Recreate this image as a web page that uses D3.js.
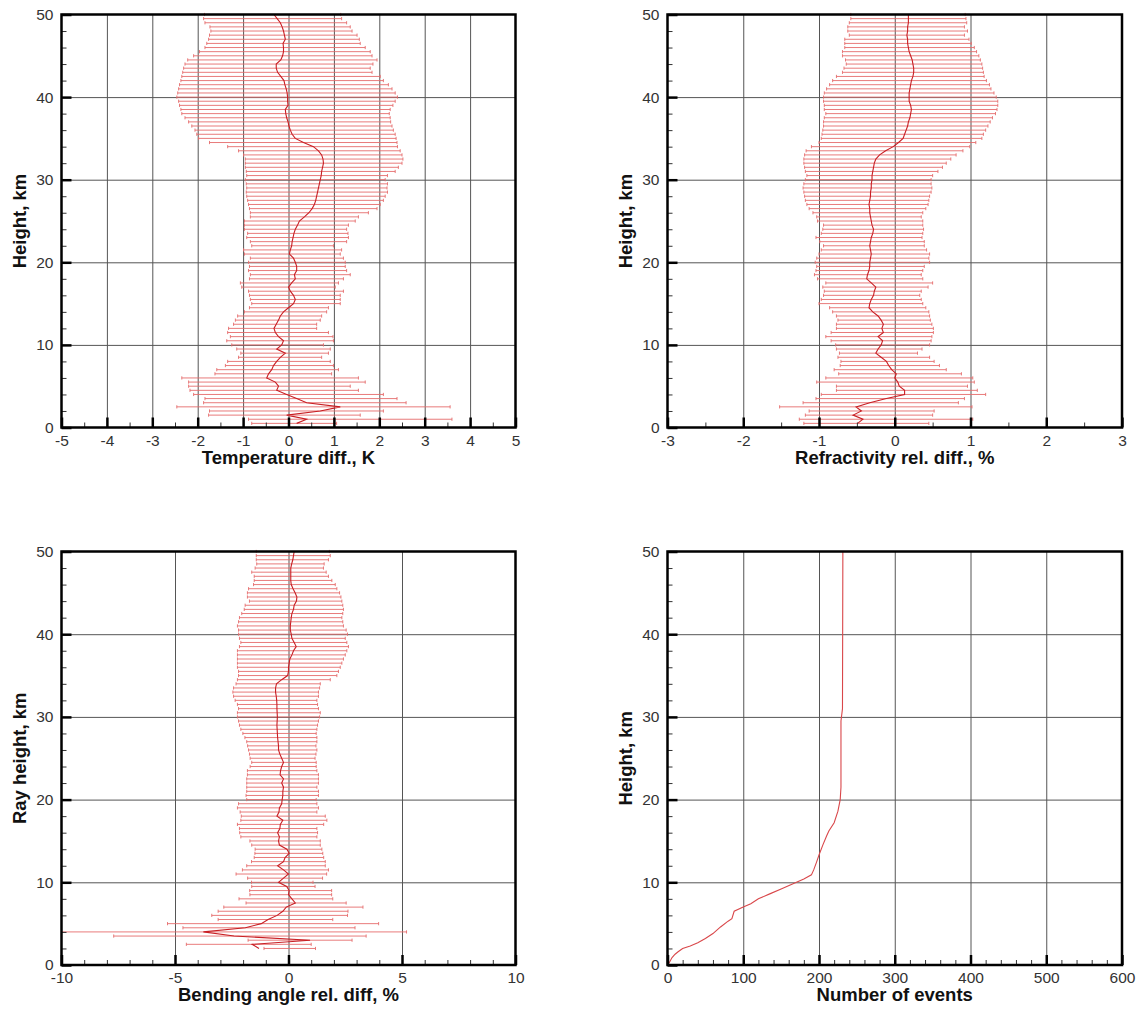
<!DOCTYPE html>
<html>
<head>
<meta charset="utf-8">
<script src="https://cdn.jsdelivr.net/npm/d3@7"></script>
<style>
body { margin: 0; background: #fff; }
svg { display: block; font-family: "Liberation Sans", Arial, Helvetica, sans-serif; }
</style>
</head>
<body>
<svg id="chart" width="1142" height="1010"></svg>
<script>
// heights of the error bars, km
var heights = [
    0.5, 1.0, 1.5, 2.0, 2.5, 3.0, 3.5, 4.0, 4.5, 5.0,
    5.5, 6.0, 6.5, 7.0, 7.5, 8.0, 8.5, 9.0, 9.5, 10.0,
    10.5, 11.0, 11.5, 12.0, 12.5, 13.0, 13.5, 14.0, 14.5, 15.0,
    15.5, 16.0, 16.5, 17.0, 17.5, 18.0, 18.5, 19.0, 19.5, 20.0,
    20.5, 21.0, 21.5, 22.0, 22.5, 23.0, 23.5, 24.0, 24.5, 25.0,
    25.5, 26.0, 26.5, 27.0, 27.5, 28.0, 28.5, 29.0, 29.5, 30.0,
    30.5, 31.0, 31.5, 32.0, 32.5, 33.0, 33.5, 34.0, 34.5, 35.0,
    35.5, 36.0, 36.5, 37.0, 37.5, 38.0, 38.5, 39.0, 39.5, 40.0,
    40.5, 41.0, 41.5, 42.0, 42.5, 43.0, 43.5, 44.0, 44.5, 45.0,
    45.5, 46.0, 46.5, 47.0, 47.5, 48.0, 48.5, 49.0, 49.5, 50.0
];

// temperature difference, K
var tempLo = [
    -0.81, -0.88, -1.76, -1.74, -2.46, -1.87, -1.84, -2.09, -2.17, -2.20,
    -2.20, -2.35, -1.62, -1.58, -1.39, -1.34, -1.10, -1.05, -1.14, -1.25,
    -1.36, -1.28, -1.34, -1.32, -1.21, -1.17, -1.12, -0.97, -0.86, -0.81,
    -0.84, -0.86, -0.88, -1.03, -1.06, -0.86, -0.84, -0.88, -0.86, -0.88,
    -0.84, -0.97, -0.99, -0.81, -0.84, -0.92, -0.90, -0.97, -0.97, -0.97,
    -0.84, -0.84, -0.86, -0.88, -0.90, -0.92, -0.93, -0.92, -0.93, -0.95,
    -0.92, -0.93, -0.95, -0.95, -0.95, -0.99, -1.10, -1.34, -1.74, -1.98,
    -2.02, -2.06, -2.13, -2.20, -2.28, -2.35, -2.37, -2.40, -2.42, -2.46,
    -2.44, -2.42, -2.40, -2.37, -2.35, -2.33, -2.31, -2.28, -2.22, -2.09,
    -1.96, -1.84, -1.80, -1.76, -1.74, -1.71, -1.73, -1.84, -1.87, -1.85
];
var tempHi = [
    1.06, 3.60, 1.58, 2.09, 3.56, 2.59, 2.39, 2.09, 1.54, 1.36,
    1.69, 1.54, 0.95, 1.10, 0.99, 0.92, 0.73, 0.88, 0.92, 0.77,
    0.99, 0.98, 0.88, 0.62, 0.62, 0.70, 0.73, 0.84, 0.88, 1.14,
    1.14, 1.14, 1.21, 1.03, 1.10, 1.21, 1.36, 1.28, 1.25, 1.25,
    1.21, 1.14, 1.17, 0.99, 1.28, 1.32, 1.31, 1.28, 1.32, 1.47,
    1.54, 1.76, 1.95, 2.02, 2.09, 2.13, 2.18, 2.17, 2.18, 2.13,
    2.18, 2.35, 2.42, 2.50, 2.52, 2.50, 2.46, 2.40, 2.39, 2.37,
    2.35, 2.31, 2.28, 2.25, 2.24, 2.22, 2.24, 2.30, 2.35, 2.40,
    2.35, 2.28, 2.20, 2.09, 2.02, 1.84, 1.80, 1.86, 1.95, 1.84,
    1.80, 1.69, 1.58, 1.56, 1.51, 1.40, 1.36, 1.28, 1.17, 1.15
];
var tempMean = [
    0.18, 0.40, -0.04, 0.70, 1.14, 0.40, 0.18, -0.04, -0.26, -0.22,
    -0.29, -0.48, -0.44, -0.37, -0.33, -0.26, -0.18, -0.07, -0.26, -0.15,
    -0.11, -0.22, -0.29, -0.32, -0.27, -0.22, -0.18, -0.11, 0.00, 0.11,
    0.15, 0.11, 0.04, 0.00, 0.07, 0.15, 0.13, 0.18, 0.18, 0.15,
    0.11, 0.02, 0.04, 0.07, 0.08, 0.10, 0.12, 0.15, 0.20, 0.24,
    0.35, 0.45, 0.52, 0.57, 0.60, 0.62, 0.64, 0.66, 0.68, 0.70,
    0.72, 0.73, 0.75, 0.77, 0.76, 0.73, 0.66, 0.55, 0.33, 0.15,
    0.08, 0.04, 0.01, -0.01, -0.04, -0.06, -0.07, -0.01, -0.02, -0.02,
    -0.03, -0.05, -0.08, -0.10, -0.17, -0.24, -0.27, -0.27, -0.17, -0.13,
    -0.11, -0.11, -0.12, -0.07, -0.09, -0.11, -0.14, -0.18, -0.25, -0.32
];

// refractivity relative difference, %
var refrLo = [
    -1.20, -1.26, -1.18, -1.13, -1.52, -1.21, -1.04, -0.97, -0.77, -0.77,
    -1.03, -0.91, -0.74, -0.80, -0.72, -0.71, -0.75, -0.73, -0.77, -0.78,
    -0.84, -0.91, -0.84, -0.77, -0.77, -0.75, -0.77, -0.82, -0.86, -1.00,
    -0.97, -0.94, -0.93, -0.95, -0.91, -1.02, -1.06, -1.04, -1.03, -1.05,
    -1.03, -1.00, -0.97, -0.94, -0.99, -1.04, -0.97, -0.95, -0.94, -1.02,
    -1.03, -1.08, -1.13, -1.16, -1.18, -1.19, -1.20, -1.21, -1.20, -1.18,
    -1.16, -1.18, -1.19, -1.20, -1.20, -1.19, -1.17, -1.10, -1.00, -0.97,
    -0.96, -0.95, -0.94, -0.94, -0.93, -0.91, -0.93, -0.93, -0.94, -0.94,
    -0.93, -0.90, -0.86, -0.82, -0.77, -0.69, -0.67, -0.64, -0.65, -0.69,
    -0.69, -0.66, -0.66, -0.66, -0.60, -0.62, -0.62, -0.60, -0.58, -0.58
];
var refrHi = [
    0.45, 1.03, 0.50, 0.52, 1.02, 0.84, 0.92, 1.20, 1.09, 0.96,
    1.05, 1.03, 0.88, 0.68, 0.59, 0.52, 0.46, 0.30, 0.36, 0.46,
    0.48, 0.49, 0.51, 0.51, 0.49, 0.47, 0.46, 0.45, 0.41, 0.37,
    0.35, 0.33, 0.35, 0.44, 0.50, 0.37, 0.35, 0.37, 0.39, 0.46,
    0.45, 0.46, 0.42, 0.39, 0.39, 0.36, 0.37, 0.38, 0.37, 0.37,
    0.35, 0.37, 0.41, 0.44, 0.45, 0.46, 0.48, 0.49, 0.48, 0.48,
    0.50, 0.57, 0.63, 0.68, 0.74, 0.81, 0.90, 0.99, 1.07, 1.15,
    1.17, 1.20, 1.23, 1.26, 1.29, 1.33, 1.35, 1.36, 1.36, 1.34,
    1.31, 1.27, 1.25, 1.21, 1.18, 1.17, 1.16, 1.15, 1.13, 1.11,
    1.08, 1.05, 1.01, 0.98, 0.92, 0.96, 0.92, 0.95, 0.94, 0.93
];
var refrMean = [
    -0.49, -0.42, -0.55, -0.44, -0.51, -0.33, -0.11, 0.13, 0.13, 0.06,
    0.04, 0.00, 0.02, -0.04, -0.08, -0.11, -0.18, -0.25, -0.22, -0.18,
    -0.16, -0.22, -0.15, -0.17, -0.15, -0.18, -0.22, -0.29, -0.34, -0.33,
    -0.31, -0.28, -0.27, -0.25, -0.31, -0.37, -0.36, -0.34, -0.33, -0.33,
    -0.32, -0.31, -0.32, -0.33, -0.32, -0.31, -0.29, -0.28, -0.30, -0.31,
    -0.32, -0.33, -0.33, -0.34, -0.33, -0.32, -0.32, -0.31, -0.31, -0.30,
    -0.30, -0.29, -0.28, -0.27, -0.25, -0.20, -0.12, -0.02, 0.05, 0.11,
    0.13, 0.15, 0.17, 0.18, 0.20, 0.21, 0.22, 0.21, 0.19, 0.19,
    0.19, 0.20, 0.21, 0.22, 0.24, 0.25, 0.25, 0.24, 0.23, 0.21,
    0.19, 0.18, 0.17, 0.17, 0.16, 0.17, 0.17, 0.18, 0.18, 0.18
];

// bending angle relative difference, % (no data below 2 km)
var bendLo = [
    null, null, null, -1.08, -4.50, -1.78, -7.70, -10.0, -4.65, -5.33,
    -3.10, -3.38, -3.10, -2.85, -1.87, -2.18, -1.70, -1.71, -1.62, -1.63,
    -1.80, -2.31, -2.03, -1.84, -1.63, -1.51, -1.48, -1.47, -1.62, -1.70,
    -2.10, -2.15, -2.16, -2.25, -2.10, -2.08, -2.13, -2.25, -2.20, -1.84,
    -1.87, -1.84, -1.84, -1.84, -1.84, -1.81, -1.81, -1.69, -1.62, -1.69,
    -1.72, -1.76, -1.80, -1.84, -1.92, -2.01, -2.10, -2.16, -2.20, -2.25,
    -2.25, -2.20, -2.25, -2.35, -2.42, -2.45, -2.42, -2.31, -2.25, -2.20,
    -2.20, -2.25, -2.25, -2.25, -2.25, -2.25, -2.16, -2.10, -2.16, -2.20,
    -2.20, -2.25, -2.20, -2.16, -2.06, -1.95, -1.91, -1.72, -1.81, -1.81,
    -1.76, -1.54, -1.51, -1.51, -1.62, -1.47, -1.40, -1.42, -1.42, -1.42
];
var bendHi = [
    null, null, null, 1.19, 1.00, 2.80, 3.42, 5.20, 2.93, 3.97,
    1.95, 2.60, 2.62, 3.28, 2.54, 1.95, 1.90, 1.90, 1.17, 1.08,
    1.50, 1.68, 1.76, 1.62, 1.62, 1.55, 1.51, 1.47, 1.40, 1.40,
    1.25, 1.28, 1.25, 1.55, 1.69, 1.62, 1.25, 1.32, 1.25, 1.22,
    1.32, 1.32, 1.25, 1.32, 1.32, 1.32, 1.25, 1.22, 1.22, 1.17,
    1.21, 1.25, 1.21, 1.25, 1.25, 1.22, 1.25, 1.28, 1.32, 1.37,
    1.40, 1.32, 1.28, 1.25, 1.32, 1.32, 1.37, 1.40, 1.84, 2.13,
    2.20, 2.28, 2.35, 2.42, 2.50, 2.57, 2.64, 2.57, 2.50, 2.60,
    2.54, 2.42, 2.39, 2.35, 2.39, 2.42, 2.39, 2.35, 2.31, 2.25,
    2.13, 2.06, 1.91, 1.76, 1.66, 1.54, 1.57, 1.76, 1.84, 1.80
];
var bendMean = [
    null, null, null, -1.30, -1.60, 0.95, -2.40, -3.75, -1.90, -1.20,
    -0.90, -0.50, -0.25, -0.10, 0.30, 0.15, 0.00, 0.03, -0.08, -0.44,
    -0.22, 0.00, -0.22, -0.48, -0.22, -0.15, 0.03, -0.07, -0.40, -0.44,
    -0.40, -0.48, -0.38, -0.36, -0.25, -0.51, -0.42, -0.40, -0.30, -0.28,
    -0.25, -0.25, -0.22, -0.30, -0.22, -0.37, -0.35, -0.30, -0.22, -0.30,
    -0.38, -0.44, -0.44, -0.46, -0.48, -0.49, -0.50, -0.51, -0.50, -0.49,
    -0.50, -0.51, -0.51, -0.52, -0.54, -0.57, -0.57, -0.53, -0.30, -0.04,
    0.00, 0.00, 0.03, 0.06, 0.15, 0.22, 0.34, 0.25, 0.15, 0.12,
    0.08, 0.08, 0.10, 0.12, 0.15, 0.22, 0.25, 0.35, 0.37, 0.29,
    0.20, 0.12, 0.10, 0.10, 0.10, 0.10, 0.14, 0.19, 0.22, 0.25
];

// number of events reaching down to a given height
var eventsCount = [0, 3, 6, 10, 14, 20, 30, 40, 50, 60, 70, 80, 85, 88, 100, 110, 120, 135,
    150, 165, 180, 190, 193, 197, 200, 205, 210, 213, 220, 225, 228, 229, 229, 229, 231, 231.5];
var eventsHeight = [0, 0.4, 0.9, 1.3, 1.6, 2.0, 2.3, 2.7, 3.2, 3.8, 4.6, 5.3, 5.6, 6.5, 7.0, 7.4, 8.0, 8.6,
    9.2, 9.8, 10.4, 10.9, 11.5, 12.5, 13.3, 14.5, 15.6, 16.2, 17.2, 18.6, 20.0, 21.5, 25.0, 29.5, 31.0, 50];

var svg = d3.select("#chart");

var panels = [
    { left: 61.5, top: 14.5, width: 454, height: 413, xDomain: [-5, 5], xStep: 1, xMinor: 0.5,
      xTitle: "Temperature diff., K", yTitle: "Height, km", lo: tempLo, hi: tempHi, mean: tempMean },
    { left: 667.5, top: 14.5, width: 454.5, height: 413, xDomain: [-3, 3], xStep: 1, xMinor: 0.5,
      xTitle: "Refractivity rel. diff., %", yTitle: "Height, km", lo: refrLo, hi: refrHi, mean: refrMean },
    { left: 61.5, top: 551.5, width: 454, height: 413.5, xDomain: [-10, 10], xStep: 5, xMinor: 1,
      xTitle: "Bending angle rel. diff, %", yTitle: "Ray height, km", lo: bendLo, hi: bendHi, mean: bendMean },
    { left: 667.5, top: 551.5, width: 454.5, height: 413.5, xDomain: [0, 600], xStep: 100, xMinor: 20,
      xTitle: "Number of events", yTitle: "Height, km", events: true }
];

function steps(a, b, s) {
    var out = [];
    var n = Math.round((b - a) / s);
    for (var i = 0; i <= n; i++) out.push(+(a + i * s).toFixed(6));
    return out;
}

function notOn(list, step) {
    return list.filter(function (v) {
        var r = v / step;
        return Math.abs(r - Math.round(r)) > 1e-6;
    });
}

function drawPanel(p) {
    var g = svg.append("g")
        .attr("transform", "translate(" + p.left + "," + p.top + ")");

    var x = d3.scaleLinear().domain(p.xDomain).range([0, p.width]);
    var y = d3.scaleLinear().domain([0, 50]).range([p.height, 0]);

    var xMajor = steps(p.xDomain[0], p.xDomain[1], p.xStep);
    var xMinor = notOn(steps(p.xDomain[0], p.xDomain[1], p.xMinor), p.xStep);
    var yMajor = steps(0, 50, 10);
    var yMinor = notOn(steps(0, 50, 2), 10);
    var fmt = function (d) { return String(d); };

    // grid
    var gx = g.append("g")
        .attr("transform", "translate(0," + p.height + ")")
        .call(d3.axisBottom(x).tickValues(xMajor.slice(1, -1)).tickSize(-p.height).tickFormat(""));
    var gy = g.append("g")
        .call(d3.axisLeft(y).tickValues(yMajor.slice(1, -1)).tickSize(-p.width).tickFormat(""));
    [gx, gy].forEach(function (a) {
        a.select(".domain").remove();
        a.selectAll("line").attr("stroke", "#555").attr("stroke-width", 1);
    });

    // data
    if (p.events) {
        var pts = eventsCount.map(function (c, i) { return [c, eventsHeight[i]]; });
        g.append("path")
            .datum(pts)
            .attr("fill", "none")
            .attr("stroke", "#d9474a")
            .attr("stroke-width", 1.1)
            .attr("d", d3.line().x(function (d) { return x(d[0]); }).y(function (d) { return y(d[1]); }));
    } else {
        var rows = heights.map(function (h, i) {
            return { h: h, lo: p.lo[i], hi: p.hi[i], m: p.mean[i] };
        }).filter(function (d) { return d.lo != null; });

        var bars = g.append("g")
            .attr("stroke", "#e56c6c")
            .attr("stroke-width", 0.9);

        bars.selectAll("line.bar")
            .data(rows)
            .enter()
            .append("line")
            .attr("class", "bar")
            .attr("x1", function (d) { return x(d.lo); })
            .attr("x2", function (d) { return x(d.hi); })
            .attr("y1", function (d) { return y(d.h); })
            .attr("y2", function (d) { return y(d.h); });

        bars.selectAll("line.capL")
            .data(rows)
            .enter()
            .append("line")
            .attr("class", "capL")
            .attr("x1", function (d) { return x(d.lo); })
            .attr("x2", function (d) { return x(d.lo); })
            .attr("y1", function (d) { return y(d.h) - 1.6; })
            .attr("y2", function (d) { return y(d.h) + 1.6; });

        bars.selectAll("line.capR")
            .data(rows)
            .enter()
            .append("line")
            .attr("class", "capR")
            .attr("x1", function (d) { return x(d.hi); })
            .attr("x2", function (d) { return x(d.hi); })
            .attr("y1", function (d) { return y(d.h) - 1.6; })
            .attr("y2", function (d) { return y(d.h) + 1.6; });

        g.append("path")
            .datum(rows)
            .attr("fill", "none")
            .attr("stroke", "#c81f24")
            .attr("stroke-width", 1.1)
            .attr("d", d3.line()
                .x(function (d) { return x(d.m); })
                .y(function (d) { return y(d.h); }));
    }

    // minor ticks
    var mx = g.append("g")
        .attr("transform", "translate(0," + p.height + ")")
        .call(d3.axisBottom(x).tickValues(xMinor).tickSize(-5).tickFormat(""));
    var my = g.append("g")
        .call(d3.axisLeft(y).tickValues(yMinor).tickSize(-5).tickFormat(""));
    [mx, my].forEach(function (a) {
        a.select(".domain").remove();
        a.selectAll("line").attr("stroke", "#333").attr("stroke-width", 1);
    });

    // major ticks + labels
    var ax = g.append("g")
        .attr("transform", "translate(0," + p.height + ")")
        .call(d3.axisBottom(x).tickValues(xMajor).tickSize(-10).tickPadding(7).tickFormat(fmt));
    var ay = g.append("g")
        .call(d3.axisLeft(y).tickValues(yMajor).tickSize(-10).tickPadding(8).tickFormat(fmt));
    [ax, ay].forEach(function (a) {
        a.select(".domain").remove();
        a.selectAll("line").attr("stroke", "#000").attr("stroke-width", 2.5);
        a.selectAll("text")
            .style("font-family", "'Liberation Sans', Arial, sans-serif")
            .style("font-size", "15.5px")
            .style("fill", "#333");
    });

    // frame
    g.append("rect")
        .attr("width", p.width)
        .attr("height", p.height)
        .attr("fill", "none")
        .attr("stroke", "#000")
        .attr("stroke-width", 2.5);

    // titles
    g.append("text")
        .attr("x", p.width / 2)
        .attr("y", p.height + 30)
        .attr("dy", "0.35em")
        .attr("text-anchor", "middle")
        .style("font-size", "18.5px")
        .style("font-weight", "bold")
        .style("fill", "#111")
        .text(p.xTitle);

    g.append("text")
        .attr("transform", "translate(-42," + (p.height / 2) + ")rotate(-90)")
        .attr("dy", "0.35em")
        .attr("text-anchor", "middle")
        .style("font-size", "18.5px")
        .style("font-weight", "bold")
        .style("fill", "#111")
        .text(p.yTitle);
}

panels.forEach(drawPanel);
</script>
</body>
</html>
